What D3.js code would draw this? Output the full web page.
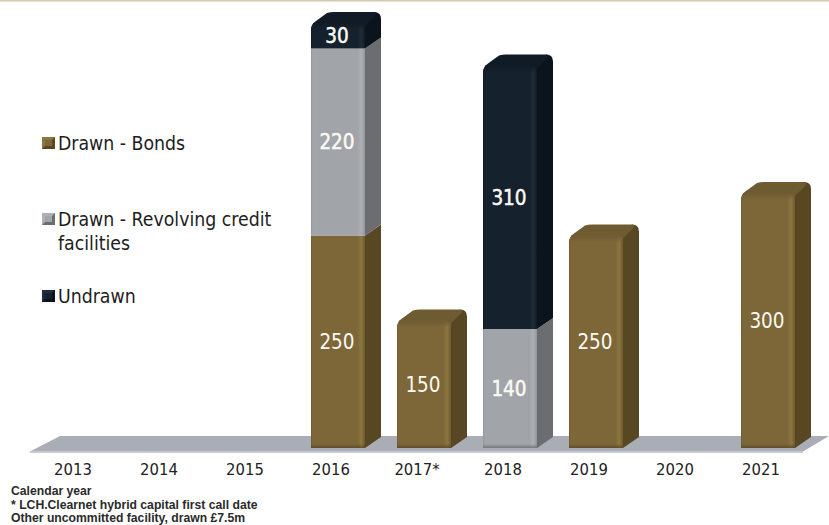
<!DOCTYPE html>
<html>
<head>
<meta charset="utf-8">
<script src="https://cdn.jsdelivr.net/npm/d3@7"></script>
<style>
  html, body { margin: 0; padding: 0; background: #fff; }
  svg { display: block; }
  .label { font-family: "DejaVu Sans Condensed", "DejaVu Sans", sans-serif; }
  .note { font-family: "Liberation Sans", Arial, sans-serif; font-weight: bold; font-size: 12.2px; fill: #2a2a2a; }
</style>
</head>
<body>
<svg id="chart" width="829" height="525"></svg>
<script>
// Debt maturity profile, £m, by calendar year
const years = ["2013", "2014", "2015", "2016", "2017*", "2018", "2019", "2020", "2021"];
const seriesNames = ["Drawn - Bonds", "Drawn - Revolving credit facilities", "Undrawn"];
const bonds = [0, 0, 0, 250, 150, 0, 250, 0, 300];
const revolving = [0, 0, 0, 220, 0, 140, 0, 0, 0];
const undrawn = [0, 0, 0, 30, 0, 310, 0, 0, 0];
const notes = [
  "Calendar year",
  "* LCH.Clearnet hybrid capital first call date",
  "Other uncommitted facility, drawn £7.5m"
];

const palette = [
  { front: "#7d6739", edge: "#8c7640", shade: "#6e5a30", side: "#574722", top: "#6f5b32" },
  { front: "#a1a4a9", edge: "#adb0b4", shade: "#93959a", side: "#6c6d71", top: "#8b8d92" },
  { front: "#15212d", edge: "#1f2c39", shade: "#101a24", side: "#0b141c", top: "#101b25" }
];

const svg = d3.select("#chart");
const defs = svg.append("defs");

const depthX = 16, depthY = 11, corner = 7;
const floorY = 448;

const x = d3.scaleBand()
  .domain(years)
  .range([37, 37 + 86 * 9])
  .paddingInner(32 / 86)
  .paddingOuter(16 / 86);
const y = d3.scaleLinear().domain([0, 500]).range([floorY, 23]);

// Soft bevels on the front face, horizontal and at the top and foot of a column
palette.forEach((c, i) => {
  const g = defs.append("linearGradient").attr("id", `front${i}`);
  [[0, c.shade], [0.03, c.front], [0.86, c.front], [0.93, c.edge], [1, c.shade]]
    .forEach(([o, col]) => g.append("stop").attr("offset", o).attr("stop-color", col));
  const t = defs.append("linearGradient").attr("id", `cap${i}`)
    .attr("x1", 0).attr("y1", 0).attr("x2", 0).attr("y2", 1);
  t.append("stop").attr("offset", 0).attr("stop-color", c.top).attr("stop-opacity", 1);
  t.append("stop").attr("offset", 1).attr("stop-color", c.top).attr("stop-opacity", 0);
  const f = defs.append("linearGradient").attr("id", `foot${i}`)
    .attr("x1", 0).attr("y1", 0).attr("x2", 0).attr("y2", 1);
  f.append("stop").attr("offset", 0).attr("stop-color", c.side).attr("stop-opacity", 0);
  f.append("stop").attr("offset", 1).attr("stop-color", c.side).attr("stop-opacity", 0.8);
});

// Top rule
svg.append("rect").attr("x", 0).attr("y", 0).attr("width", 829).attr("height", 1.5).attr("fill", "#d3c8b0");

// Floor slab under the columns
svg.append("path")
  .attr("d", "M30,451.5 L60,436 L829,436 L803,451.5 Z")
  .attr("fill", "#a9adb5");
svg.append("rect").attr("x", 30).attr("y", 451).attr("width", 773).attr("height", 2).attr("fill", "#c9cacd");

// Stack the three series per year
const stackRows = years.map((yr, i) => ({ yr, 0: bonds[i], 1: revolving[i], 2: undrawn[i] }));
const stacked = d3.stack().keys([0, 1, 2])(stackRows);

const bars = svg.append("g");
years.forEach((yr, i) => {
  const segs = stacked.map((s, k) => ({ k, lo: s[i][0], hi: s[i][1] })).filter(d => d.hi > d.lo);
  if (!segs.length) return;
  const x0 = x(yr), x1 = x0 + x.bandwidth();
  const g = bars.append("g");
  const last = segs[segs.length - 1];
  segs.forEach(seg => {
    const c = palette[seg.k];
    const yb = y(seg.lo), yt = y(seg.hi);
    const isTop = seg === last;
    // right side face
    const rb = `M${x1},${yb} L${x1 + depthX},${yb - depthY}`;
    g.append("path")
      .attr("d", rb + (isTop
        ? ` L${x1 + depthX},${yt - depthY + corner} Q${x1 + depthX},${yt - depthY} ${x1 + depthX - corner},${yt - depthY} L${x1 - 2},${yt} L${x1},${yt + corner} Z`
        : ` L${x1 + depthX},${yt - depthY} L${x1},${yt} Z`))
      .attr("fill", c.side);
    if (isTop) {
      // top face
      g.append("path")
        .attr("d", `M${x0},${yt + corner} Q${x0},${yt + 1} ${x0 + 5},${yt - 2} L${x0 + depthX},${yt - depthY + 1} Q${x0 + depthX + 3},${yt - depthY} ${x0 + depthX + 7},${yt - depthY} L${x1 + depthX - corner},${yt - depthY} Q${x1 + depthX - 3},${yt - depthY} ${x1 + depthX - 6},${yt - depthY + 4} L${x1},${yt + 3} L${x1},${yt + corner} Z`)
        .attr("fill", c.top);
    }
    // front face
    const r = isTop ? corner : 0;
    g.append("path")
      .attr("d", `M${x0},${yb} L${x0},${yt + r} Q${x0},${yt} ${x0 + r},${yt} L${x1 - r},${yt} Q${x1},${yt} ${x1},${yt + r} L${x1},${yb} Z`)
      .attr("fill", `url(#front${seg.k})`);
    if (isTop) {
      g.append("rect").attr("x", x0 + 2).attr("y", yt).attr("width", x.bandwidth() - 4).attr("height", 7)
        .attr("fill", `url(#cap${seg.k})`);
    }
    if (seg.lo === 0) {
      g.append("rect").attr("x", x0).attr("y", yb - 4).attr("width", x.bandwidth()).attr("height", 4)
        .attr("fill", `url(#foot${seg.k})`);
    }
    // value label, slightly heavier on the grey and navy segments
    g.append("text")
      .attr("class", "label")
      .attr("x", x0 + x.bandwidth() / 2 - 1)
      .attr("y", (yb + yt) / 2)
      .attr("dy", "0.36em")
      .attr("text-anchor", "middle")
      .attr("font-size", 20.5)
      .attr("fill", "#fbf9f3")
      .attr("stroke", "#fbf9f3")
      .attr("stroke-width", seg.k === 0 ? 0 : 0.5)
      .text(seg.hi - seg.lo);
  });
});

// Year axis
const axis = svg.append("g")
  .attr("transform", "translate(-7,464)")
  .call(d3.axisBottom(x).tickSize(0).tickPadding(0));
axis.select(".domain").remove();
axis.selectAll("text")
  .attr("class", "label")
  .attr("font-size", 16.5)
  .attr("fill", "#222")
  .attr("dy", "0.68em");

// Legend, with a bevelled swatch per series
const legendRows = [
  { k: 0, lines: ["Drawn - Bonds"], y: 143 },
  { k: 1, lines: ["Drawn - Revolving credit", "facilities"], y: 219 },
  { k: 2, lines: ["Undrawn"], y: 296 }
];
const legend = svg.append("g");
legendRows.forEach(row => {
  const c = palette[row.k];
  legend.append("rect")
    .attr("x", 42).attr("y", row.y - 6).attr("width", 13).attr("height", 12)
    .attr("fill", c.side);
  legend.append("path")
    .attr("d", `M42,${row.y - 6} h13 l-3,3 h-7 v6 l-3,3 Z`)
    .attr("fill", c.edge);
  legend.append("rect")
    .attr("x", 45).attr("y", row.y - 3).attr("width", 7).attr("height", 6)
    .attr("fill", c.front);
  row.lines.forEach((line, j) => {
    legend.append("text")
      .attr("class", "label")
      .attr("x", 58)
      .attr("y", row.y + j * 24)
      .attr("dy", "0.36em")
      .attr("font-size", 19.3)
      .attr("fill", "#1d1d1d")
      .text(line);
  });
});

// Footnotes
svg.append("g").selectAll("text").data(notes).join("text")
  .attr("class", "note")
  .attr("x", 11)
  .attr("y", (d, i) => 495 + i * 13.5)
  .text(d => d);
</script>
</body>
</html>
